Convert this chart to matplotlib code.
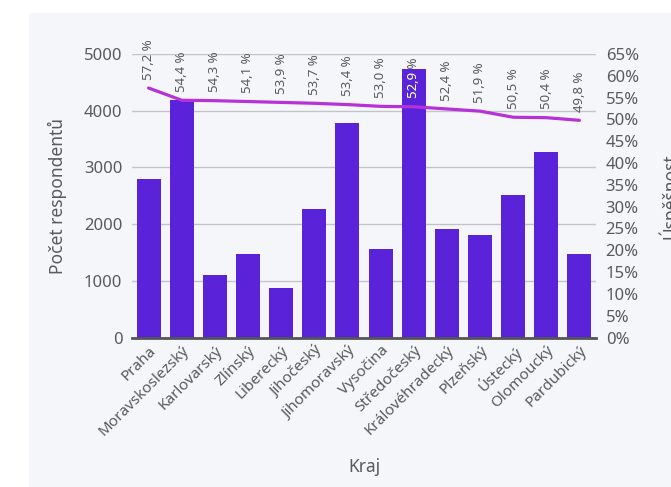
import matplotlib
matplotlib.use("Agg")
import matplotlib.pyplot as plt
from matplotlib.patches import Rectangle

plt.rcParams['font.family'] = ['Noto Sans', 'DejaVu Sans']

kraje = ["Praha", "Moravskoslezský", "Karlovarský", "Zlínský", "Liberecký",
         "Jihočeský", "Jihomoravský", "Vysočina", "Středočeský",
         "Královéhradecký", "Plzeňský", "Ústecký", "Olomoucký", "Pardubický"]
pocet = [2800, 4180, 1100, 1470, 875, 2265, 3785, 1560, 4730, 1910, 1805,
         2510, 3265, 1470]
uspesnost = [57.2, 54.4, 54.3, 54.1, 53.9, 53.7, 53.4, 53.0, 52.9, 52.4,
             51.9, 50.5, 50.4, 49.8]
left_ticks = [0, 1000, 2000, 3000, 4000, 5000]
right_ticks = list(range(0, 70, 5))

BG = "#f5f6fa"
BAR = "#5b23d9"
LINE = "#b631d8"
TXT = "#5a5a5a"

fig = plt.figure(figsize=(6.71, 4.87), dpi=100, facecolor="white")
fig.patches.append(Rectangle((29 / 671, 0), 1, 1 - 13 / 487,
                             transform=fig.transFigure, facecolor=BG,
                             edgecolor="none", zorder=-10))

W, H = 671, 487
l, r, t, b = 132, 596, 54, 337.5
ax = fig.add_axes([l / W, 1 - b / H, (r - l) / W, (b - t) / H])
ax.set_facecolor(BG)
x = list(range(len(kraje)))
bars = ax.bar(x, pocet, width=0.72, color=BAR, zorder=3)
ax.set_xlim(-0.5, len(kraje) - 0.5)
ax.set_ylim(0, 5000)
ax.set_yticks(left_ticks)
ax.set_yticklabels([str(v) for v in left_ticks], fontsize=12, color=TXT)
ax.grid(axis="y", color="#c4c4c8", linewidth=1, zorder=0)
ax.set_axisbelow(True)
for s in ["top", "right", "left"]:
    ax.spines[s].set_visible(False)
ax.spines["bottom"].set_color("#555555")
ax.spines["bottom"].set_linewidth(2)
ax.spines["bottom"].set_zorder(5)
ax.tick_params(axis="y", length=0, pad=7)
ax.tick_params(axis="x", length=0, pad=4)
ax.set_xticks(x)
ax.set_xticklabels(kraje, rotation=45, ha="right", rotation_mode="anchor",
                   fontsize=11, color=TXT)
ax.set_ylabel("Počet respondentů", fontsize=12.5, color=TXT)
ax.yaxis.set_label_coords((57 - l) / (r - l), 0.5)
ax.yaxis.label.set_va("center")
ax.set_xlabel("Kraj", fontsize=12.5, color=TXT)
ax.xaxis.set_label_coords(0.5, -(467 - b) / (b - t))
ax.xaxis.label.set_va("center")

ax2 = ax.twinx()
ax2.set_ylim(0, 65)
ax2.set_yticks(right_ticks)
ax2.set_yticklabels([f"{v}%" for v in right_ticks], fontsize=12, color=TXT)
ax2.tick_params(axis="y", length=0, pad=7)
for s in ["top", "right", "left", "bottom"]:
    ax2.spines[s].set_visible(False)
ax2.plot(x, uspesnost, color=LINE, linewidth=2.3, zorder=4,
         solid_capstyle="round")
ax2.set_ylabel("Úspěšnost", fontsize=12.5, color=TXT, rotation=90)
ax2.yaxis.set_label_coords((669 - l) / (r - l), 0.5)
ax2.yaxis.label.set_va("center")

for i, v in enumerate(uspesnost):
    lab = f"{v:.1f}".replace(".", ",") + " %"
    ax2.annotate(lab, (i, v), xytext=(0, 6), textcoords="offset points",
                 rotation=90, ha="center", va="bottom", fontsize=9.5,
                 color=TXT, annotation_clip=False, zorder=6)
    # white copy clipped to bar where label overlaps bar
    w = ax2.annotate(lab, (i, v), xytext=(0, 6), textcoords="offset points",
                     rotation=90, ha="center", va="bottom", fontsize=9.5,
                     color="white", annotation_clip=False, zorder=7)
    w.set_clip_path(bars[i])

fig.savefig("out.png", dpi=100, facecolor="white")
